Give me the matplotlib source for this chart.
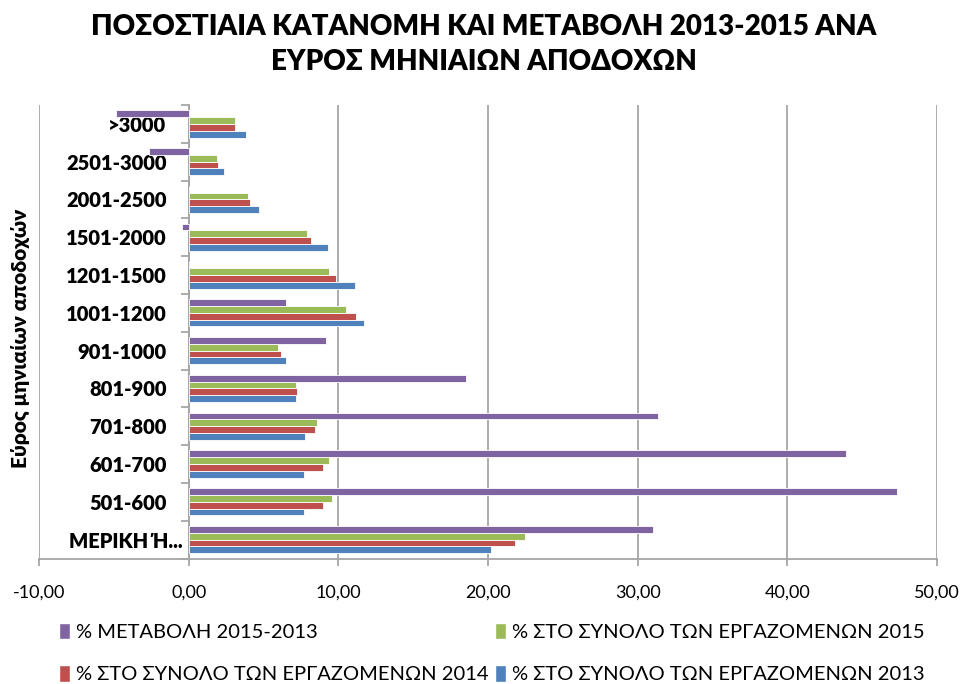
import matplotlib
matplotlib.use("Agg")
import matplotlib.pyplot as plt
import matplotlib.transforms as mtransforms
from matplotlib.patches import Patch
import numpy as np

plt.rcParams['font.family'] = ['Lato', 'DejaVu Sans']

categories = ["ΜΕΡΙΚΗ Ή...", "501-600", "601-700", "701-800", "801-900", "901-1000",
              "1001-1200", "1201-1500", "1501-2000", "2001-2500", "2501-3000", ">3000"]
pct_2013 = [20.22, 7.68, 7.68, 7.75, 7.15, 6.48, 11.73, 11.11, 9.33, 4.68, 2.34, 3.85]
pct_2014 = [21.80, 8.95, 8.95, 8.44, 7.24, 6.17, 11.20, 9.86, 8.19, 4.07, 1.98, 3.09]
pct_2015 = [22.47, 9.55, 9.40, 8.57, 7.15, 5.95, 10.53, 9.40, 7.90, 3.94, 1.89, 3.07]
change_15_13 = [31.04, 47.34, 43.95, 31.35, 18.50, 9.17, 6.48, 0.0, -0.45, 0.0, -2.67, -4.86]

series = [
    ("% ΣΤΟ ΣΥΝΟΛΟ ΤΩΝ ΕΡΓΑΖΟΜΕΝΩΝ 2013", pct_2013, "#4F81BD"),
    ("% ΣΤΟ ΣΥΝΟΛΟ ΤΩΝ ΕΡΓΑΖΟΜΕΝΩΝ 2014", pct_2014, "#C0504D"),
    ("% ΣΤΟ ΣΥΝΟΛΟ ΤΩΝ ΕΡΓΑΖΟΜΕΝΩΝ 2015", pct_2015, "#9BBB59"),
    ("% ΜΕΤΑΒΟΛΗ 2015-2013", change_15_13, "#8064A2"),
]

fig = plt.figure(figsize=(9.67, 6.84), dpi=100)
ax = fig.add_axes([39/967, 1 - 558.5/684, (937-39)/967, (558.5-105)/684])

y = np.arange(len(categories))
h = 0.18
offsets = [-1.5*h, -0.5*h, 0.5*h, 1.5*h]
for (name, vals, col), off in zip(series, offsets):
    ax.barh(y + off, vals, height=h, color=col, edgecolor='white', linewidth=0.6, zorder=3)

ax.set_xlim(-10, 50)
ax.set_ylim(-0.5, len(categories) - 0.5)
ax.set_xticks(np.arange(-10, 51, 10))
ax.set_xticklabels([f"{v:.2f}".replace('.', ',') for v in np.arange(-10, 51, 10)], fontsize=13)
ax.xaxis.grid(True, color='#A6A6A6', linewidth=1.3, zorder=0)
ax.set_axisbelow(True)

for s in ['top', 'right']:
    ax.spines[s].set_visible(False)
ax.spines['bottom'].set_color('#A6A6A6')
ax.spines['bottom'].set_linewidth(1.3)
ax.spines['left'].set_position(('data', 0))
ax.spines['left'].set_color('#A6A6A6')
ax.spines['left'].set_linewidth(1.3)

ax.set_yticks(y)
ax.set_yticklabels(categories, fontsize=14.5, fontweight='heavy')
ax.set_yticks(np.arange(-0.5, len(categories), 1), minor=True)
ax.tick_params(axis='y', which='major', length=0, pad=16)
ax.tick_params(axis='y', which='minor', length=6, color='#A6A6A6', width=1.3)
ax.tick_params(axis='x', which='major', length=5, color='#A6A6A6', width=1.3, pad=14)

# shift the truncated first label slightly right, as in the original
lab0 = ax.get_yticklabels()[0]
lab0.set_transform(lab0.get_transform() + mtransforms.ScaledTranslation(16/100, 0, fig.dpi_scale_trans))

fig.text(20/967, 1 - 338/684, "Εύρος μηνιαίων αποδοχών", rotation=90, ha='center', va='center',
         fontsize=15, fontweight='heavy')

fig.text(0.5, 1 - 27/684, "ΠΟΣΟΣΤΙΑΙΑ ΚΑΤΑΝΟΜΗ ΚΑΙ ΜΕΤΑΒΟΛΗ 2013-2015 ΑΝΑ", ha='center', va='center',
         fontsize=20, fontweight='heavy')
fig.text(0.5, 1 - 62/684, "ΕΥΡΟΣ ΜΗΝΙΑΙΩΝ ΑΠΟΔΟΧΩΝ", ha='center', va='center',
         fontsize=20, fontweight='heavy')

# legend: column-wise fill -> col1: purple, red ; col2: green, blue
order = [3, 1, 2, 0]
handles = [Patch(facecolor=series[i][2], edgecolor='white') for i in order]
labels = [series[i][0] for i in order]
fig.legend(handles, labels, loc='center left', bbox_to_anchor=(49/967, 1 - 653/684), ncol=2,
           frameon=False, fontsize=14.5, handlelength=0.55, handleheight=0.9, handletextpad=0.3,
           columnspacing=0.3, labelspacing=1.2, borderpad=0)

fig.savefig("out.png", dpi=100)
